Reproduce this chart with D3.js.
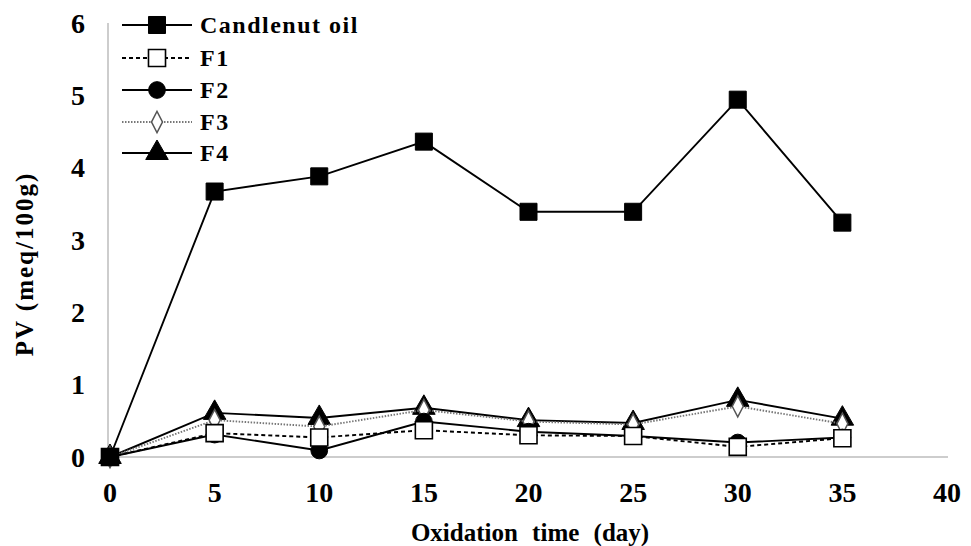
<!DOCTYPE html>
<html>
<head>
<meta charset="utf-8">
<script src="https://cdn.jsdelivr.net/npm/d3@7"></script>
<style>
  body { margin: 0; background: #fff; }
  text { font-family: "Liberation Serif", "Times New Roman", serif; font-weight: bold; fill: #000; }
</style>
</head>
<body>
<svg id="chart" width="971" height="546"></svg>
<script>
'use strict';

var days = [0, 5, 10, 15, 20, 25, 30, 35];
var candlenut = [0, 3.67, 3.88, 4.36, 3.39, 3.39, 4.94, 3.24];
var f1 = [0, 0.33, 0.27, 0.37, 0.30, 0.29, 0.14, 0.26];
var f2 = [0, 0.31, 0.09, 0.49, 0.35, 0.29, 0.20, 0.27];
var f3 = [0, 0.51, 0.42, 0.65, 0.49, 0.45, 0.70, 0.46];
var f4 = [0, 0.61, 0.54, 0.68, 0.51, 0.47, 0.79, 0.53];
var xTicks = [0, 5, 10, 15, 20, 25, 30, 35, 40];
var yTicks = [0, 1, 2, 3, 4, 5, 6];

var series = [
  {name: 'Candlenut oil', values: candlenut, marker: 'square', fill: '#000', dash: null, stroke: '#000'},
  {name: 'F1', values: f1, marker: 'square', fill: '#fff', dash: '4,3', stroke: '#000'},
  {name: 'F2', values: f2, marker: 'circle', fill: '#000', dash: null, stroke: '#000'},
  {name: 'F3', values: f3, marker: 'diamond', fill: '#fff', dash: '1.5,1.5', stroke: '#777'},
  {name: 'F4', values: f4, marker: 'triangle', fill: '#000', dash: null, stroke: '#000'}
];

var svg = d3.select('#chart');
var x = d3.scaleLinear().domain([0, 40]).range([110, 947]);
var y = d3.scaleLinear().domain([0, 6]).range([457, 23]);

// axes lines (grey, no ticks)
svg.append('line').attr('x1', 108).attr('x2', 948).attr('y1', y(0)).attr('y2', y(0))
  .attr('stroke', '#bdbdbd').attr('stroke-width', 1.5);
svg.append('line').attr('x1', 108).attr('x2', 108).attr('y1', y(0)).attr('y2', y(6))
  .attr('stroke', '#bdbdbd').attr('stroke-width', 1.5);

svg.selectAll('.ytick').data(yTicks).enter().append('text')
  .attr('class', 'ytick')
  .attr('x', 85).attr('y', function(d) { return y(d); })
  .attr('dy', '0.35em').attr('text-anchor', 'end')
  .style('font-size', '28px')
  .text(function(d) { return d; });

svg.selectAll('.xtick').data(xTicks).enter().append('text')
  .attr('class', 'xtick')
  .attr('x', function(d) { return x(d); }).attr('y', 502)
  .attr('text-anchor', 'middle')
  .style('font-size', '28px')
  .text(function(d) { return d; });

svg.append('text').attr('x', 530).attr('y', 541).attr('text-anchor', 'middle')
  .style('font-size', '25px').style('word-spacing', '8px')
  .text('Oxidation time (day)');

svg.append('text').attr('transform', 'translate(33,' + 264 + ') rotate(-90)')
  .attr('text-anchor', 'middle').style('font-size', '25px').style('letter-spacing', '2px')
  .text('PV (meq/100g)');

var symbolType = {
  square: d3.symbolSquare,
  circle: d3.symbolCircle,
  diamond: d3.symbolDiamond,
  triangle: d3.symbolTriangle
};
var symbolSize = {square: 290, circle: 220, diamond: 130, triangle: 220};

function drawMarker(g, s, cx, cy) {
  var sym = d3.symbol().type(symbolType[s.marker]).size(symbolSize[s.marker]);
  return g.append('path').attr('d', sym())
    .attr('transform', s.marker === 'diamond'
      ? 'translate(' + cx + ',' + cy + ') scale(0.9,1)'
      : 'translate(' + cx + ',' + cy + ')')
    .attr('fill', s.fill)
    .attr('stroke', s.marker === 'diamond' ? '#555' : '#000')
    .attr('stroke-width', s.fill === '#fff' ? 1.6 : 1);
}

var line = d3.line()
  .x(function(d, i) { return x(days[i]); })
  .y(function(d) { return y(d); });

// reverse order so candlenut oil sits on top
series.slice().reverse().forEach(function(s) {
  var g = svg.append('g');
  g.append('path').datum(s.values)
    .attr('d', line)
    .attr('fill', 'none')
    .attr('stroke', s.stroke)
    .attr('stroke-width', 1.9)
    .attr('stroke-dasharray', s.dash);
  s.values.forEach(function(v, i) {
    drawMarker(g, s, x(days[i]), y(v));
  });
});

// legend
var legendY = [25, 58, 90, 122, 153];
series.forEach(function(s, i) {
  var g = svg.append('g');
  var ly = legendY[i];
  g.append('line').attr('x1', 122).attr('x2', 192).attr('y1', ly).attr('y2', ly)
    .attr('stroke', s.stroke).attr('stroke-width', 1.9)
    .attr('stroke-dasharray', s.dash);
  drawMarker(g, s, 157, ly);
  g.append('text').attr('x', 200).attr('y', ly).attr('dy', '0.35em')
    .style('font-size', '24px').style('letter-spacing', '1.5px')
    .text(s.name);
});
</script>
</body>
</html>
